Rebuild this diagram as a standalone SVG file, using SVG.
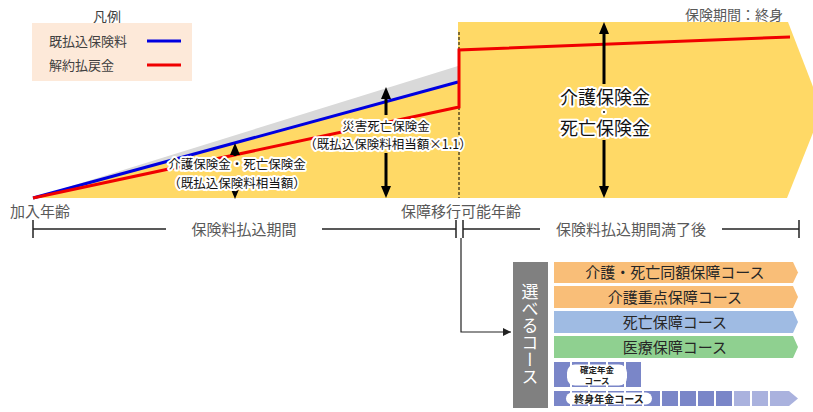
<svg xmlns="http://www.w3.org/2000/svg" width="813" height="412" viewBox="0 0 813 412">
<style>
text{font-family:"Noto Sans CJK JP","Noto Sans",sans-serif}
.lg{font-size:13px;fill:#404040}
.tl{font-size:15px;fill:#595959}
.halo{fill:#111;stroke:#fff;stroke-width:4;stroke-linejoin:round;paint-order:stroke}
.bar{font-size:15px;fill:#262626;text-anchor:middle}
.axis{stroke:#222;stroke-width:1.5;fill:none}
.arr{stroke:#000;stroke-width:3;fill:none}
.dk{fill:#7a86c8}
.lt{fill:#aab2de}
.pill{fill:#fff}
.pt{font-weight:bold;fill:#222;text-anchor:middle}
</style>
<defs>
<marker id="ah" viewBox="0 0 12 10" refX="6" refY="5" markerWidth="12" markerHeight="10" markerUnits="userSpaceOnUse" orient="auto-start-reverse">
<path d="M0,0 L12,5 L0,10 z" fill="#000"/>
</marker>
<marker id="sa" viewBox="0 0 8 8" refX="8" refY="4" markerWidth="8" markerHeight="8" markerUnits="userSpaceOnUse" orient="auto">
<path d="M0,0 L8,4 L0,8 z" fill="#222"/>
</marker>
</defs>
<rect width="813" height="412" fill="#fff"/>

<g id="chart-area">
<polygon points="458,22 788,22 822,110 787,198 458,198" fill="#ffd966"/>
<polygon points="33,198 458,82 458,198" fill="#ffd966"/>
<polygon points="33,198 458,66 458,82" fill="#d9d9d9"/>
<line x1="459" y1="32" x2="459" y2="198" stroke="#000" stroke-width="1" stroke-dasharray="3,2"/>
<polyline points="33,198 458,82" stroke="#0000e0" stroke-width="3" fill="none"/>
<polyline points="33,198 459,107 459,50 790,37" stroke="#f00000" stroke-width="3" fill="none"/>
</g>

<g id="connectors">
<line class="arr" x1="235" y1="149" x2="235" y2="156" marker-start="url(#ah)"/>
<line class="arr" x1="235" y1="189" x2="235" y2="193" marker-end="url(#ah)"/>
<line class="arr" x1="386" y1="93" x2="386" y2="115" marker-start="url(#ah)"/>
<line class="arr" x1="386" y1="153" x2="386" y2="192" marker-end="url(#ah)"/>
<line class="arr" x1="604" y1="28" x2="604" y2="84" marker-start="url(#ah)"/>
<line class="arr" x1="604" y1="140" x2="604" y2="192" marker-end="url(#ah)"/>
<polyline points="461,238 461,332 511,332" stroke="#222" stroke-width="1.2" fill="none" marker-end="url(#sa)"/>
</g>

<g id="legend">
<text x="107" y="22" font-size="14" fill="#404040" text-anchor="middle">凡例</text>
<rect x="32" y="23" width="160" height="58" fill="#fde9d9"/>
<text x="49" y="46" class="lg">既払込保険料</text>
<line x1="147" y1="41" x2="181" y2="41" stroke="#0000e0" stroke-width="3"/>
<text x="49" y="70" class="lg">解約払戻金</text>
<line x1="147" y1="65" x2="181" y2="65" stroke="#f00000" stroke-width="3"/>
</g>

<g id="label-period">
<text x="783" y="20" font-size="14" fill="#595959" text-anchor="end">保険期間：終身</text>
</g>

<g id="label-small">
<text class="halo" font-size="12.5" text-anchor="middle"><tspan x="237" y="169">介護保険金・死亡保険金</tspan><tspan x="237" y="187.5">（既払込保険料相当額）</tspan></text>
</g>

<g id="label-accident">
<text class="halo" font-size="12.5" text-anchor="middle"><tspan x="386" y="130.5">災害死亡保険金</tspan><tspan x="388" y="149">（既払込保険料相当額×1.1）</tspan></text>
</g>

<g id="label-big">
<text x="605" y="104" class="halo" font-size="18" text-anchor="middle">介護保険金</text>
<circle cx="604" cy="112" r="2" fill="#111" stroke="#fff" stroke-width="2"/>
<text x="605" y="135" class="halo" font-size="18" text-anchor="middle">死亡保険金</text>
</g>

<g id="timeline">
<text x="10" y="217" class="tl">加入年齢</text>
<text x="401" y="217" class="tl">保障移行可能年齢</text>
<line class="axis" x1="33" y1="229" x2="166" y2="229"/>
<line class="axis" x1="33" y1="220" x2="33" y2="238"/>
<text x="244" y="235" class="tl" text-anchor="middle">保険料払込期間</text>
<line class="axis" x1="322" y1="229" x2="456" y2="229"/>
<line class="axis" x1="456" y1="220" x2="456" y2="238"/>
<line class="axis" x1="463" y1="220" x2="463" y2="238"/>
<line class="axis" x1="463" y1="229" x2="540" y2="229"/>
<text x="631" y="235" class="tl" text-anchor="middle">保険料払込期間満了後</text>
<line class="axis" x1="722" y1="229" x2="799" y2="229"/>
<line class="axis" x1="799" y1="220" x2="799" y2="238"/>
</g>

<g id="courses-box">
<rect x="513" y="262" width="35" height="146" fill="#808080"/>
<text x="530" y="334" font-size="17" fill="#fff" writing-mode="vertical-rl" text-anchor="middle">選べるコース</text>
</g>

<g id="course-1">
<polygon points="554,262 793,262 798,272.5 793,283 554,283" fill="#f9be78"/>
<text x="675" y="278" class="bar">介護・死亡同額保障コース</text>
</g>
<g id="course-2">
<polygon points="554,286 793,286 798,297 793,308 554,308" fill="#f9be78"/>
<text x="675" y="302.5" class="bar">介護重点保障コース</text>
</g>
<g id="course-3">
<polygon points="554,311 793,311 798,322 793,333 554,333" fill="#9fbbe3"/>
<text x="675" y="327.5" class="bar">死亡保障コース</text>
</g>
<g id="course-4">
<polygon points="554,336 793,336 798,347 793,358 554,358" fill="#8fd090"/>
<text x="675" y="352.5" class="bar">医療保障コース</text>
</g>

<g id="course-fixed-annuity">
<rect class="dk" x="554" y="362" width="16" height="25"/>
<rect class="dk" x="572" y="362" width="16" height="25"/>
<rect class="dk" x="590" y="362" width="16" height="25"/>
<rect class="dk" x="608" y="362" width="16" height="25"/>
<rect class="dk" x="626" y="362" width="15" height="25"/>
<rect class="pill" x="567" y="364.5" width="60" height="21" rx="8"/>
<text class="pt" font-size="8.5"><tspan x="597" y="373">確定年金</tspan><tspan x="597" y="383.5">コース</tspan></text>
</g>

<g id="course-life-annuity">
<rect class="dk" x="554" y="391" width="16" height="15"/>
<rect class="dk" x="572" y="391" width="16" height="15"/>
<rect class="dk" x="590" y="391" width="16" height="15"/>
<rect class="dk" x="608" y="391" width="16" height="15"/>
<rect class="dk" x="626" y="391" width="16" height="15"/>
<rect class="dk" x="644" y="391" width="16" height="15"/>
<rect class="dk" x="662" y="391" width="16" height="15"/>
<rect class="dk" x="680" y="391" width="16" height="15"/>
<rect class="dk" x="698" y="391" width="16" height="15"/>
<rect class="dk" x="716" y="391" width="16" height="15"/>
<rect class="lt" x="734" y="391" width="16" height="15"/>
<rect class="lt" x="752" y="391" width="16" height="15"/>
<polygon class="lt" points="770,391 789,391 798,398.5 789,406 770,406"/>
<rect class="pill" x="566" y="392.5" width="86" height="12" rx="6"/>
<text x="609" y="402.5" class="pt" font-size="10">終身年金コース</text>
</g>
</svg>
